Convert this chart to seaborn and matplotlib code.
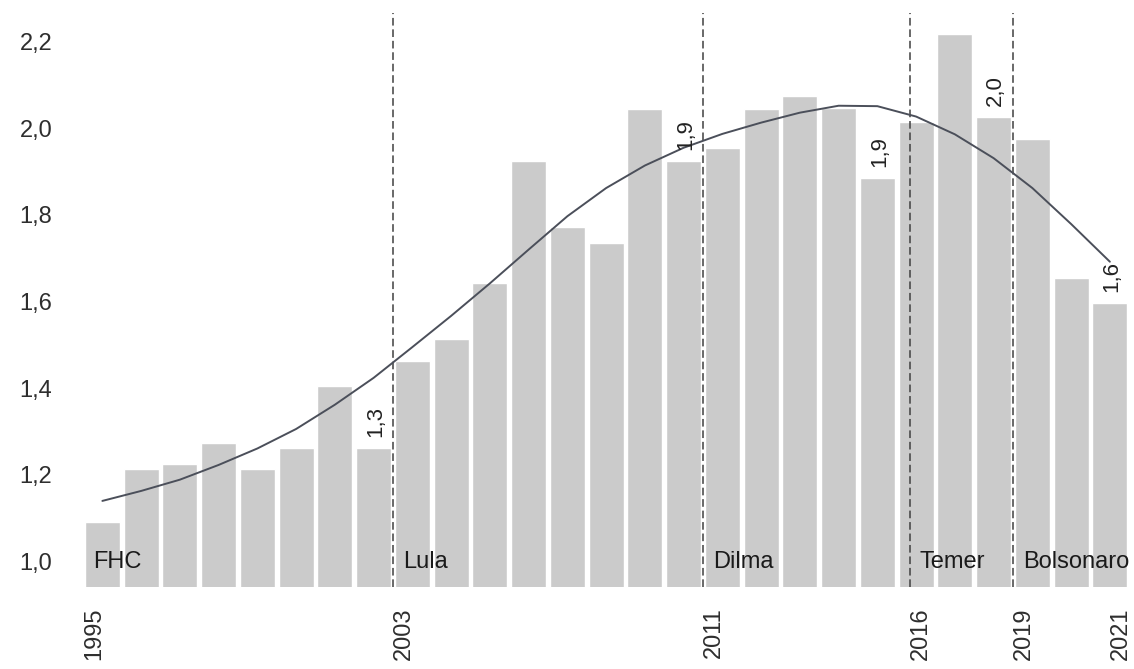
import matplotlib
matplotlib.use('Agg')
import matplotlib.pyplot as plt
import numpy as np
import pandas as pd
import seaborn as sns

# values
YEARS = list(range(1995, 2022))
VALUES = [1.092, 1.213, 1.225, 1.273, 1.213, 1.263, 1.405, 1.263,
          1.464, 1.514, 1.644, 1.925, 1.773, 1.735, 2.045, 1.925,
          1.954, 2.045, 2.075, 2.046, 1.885, 2.015, 2.217, 2.026,
          1.975, 1.655, 1.596]
TREND = [1.140, 1.163, 1.189, 1.223, 1.261, 1.306, 1.362, 1.424,
         1.495, 1.567, 1.642, 1.720, 1.797, 1.862, 1.914, 1.955,
         1.987, 2.013, 2.036, 2.052, 2.051, 2.027, 1.986, 1.931,
         1.862, 1.779, 1.692]
GOVERNMENTS = ['FHC', 'Lula', 'Dilma', 'Temer', 'Bolsonaro']
GOV_START = [1995.0, 2003.0, 2011.0, 2016.34, 2019.0]
LABEL_YEARS = [2002, 2010, 2015, 2018, 2021]
TICK_POS = [1995.0, 2003.0, 2011.0, 2016.34, 2019.0, 2021.5]
TICK_LABELS = ['1995', '2003', '2011', '2016', '2019', '2021']
Y_TICKS = [1.0, 1.2, 1.4, 1.6, 1.8, 2.0, 2.2]

df = pd.DataFrame({'year': YEARS, 'value': VALUES, 'trend': TREND})
df['mid'] = df['year'] + 0.5

sns.set_style('white')
plt.rcParams['font.family'] = ['Liberation Sans', 'DejaVu Sans']

fig = plt.figure(figsize=(11.34, 6.69), dpi=100)
ax = fig.add_axes([83 / 1134, (669 - 586.7) / 669, 1046.25 / 1134, 573.7 / 669])

sns.barplot(data=df, x='mid', y='value', native_scale=True, width=0.9,
            color='#cbcbcb', saturation=1, errorbar=None, ax=ax, zorder=1)
sns.lineplot(data=df, x='mid', y='trend', color='#4b4f5a', lw=1.4, ax=ax, zorder=3)

for x in GOV_START[1:]:
    ax.axvline(x, color='#404040', lw=1.1, ls=(0, (5, 2.5)), zorder=2)

for name, x in zip(GOVERNMENTS, GOV_START):
    ax.text(x + 0.26, 1.0, name, ha='left', va='center', fontsize=17,
            color='#1a1a1a', zorder=4)

for yr in LABEL_YEARS:
    v = df.loc[df.year == yr, 'value'].iloc[0]
    ax.text(yr + 0.55, v + 0.025, f'{v:.1f}'.replace('.', ','), rotation=90,
            ha='center', va='bottom', fontsize=16, color='#222222', zorder=4)

ax.set_xlim(1995, 2022)
ax.set_ylim(0.942, 2.266)
ax.set_xticks(TICK_POS)
ax.set_xticklabels(TICK_LABELS, rotation=90, ha='left', va='top')
ax.set_yticks(Y_TICKS)
ax.set_yticklabels([f'{v:.1f}'.replace('.', ',') for v in Y_TICKS])
ax.tick_params(axis='x', length=0, pad=15, labelsize=17, labelcolor='#2e2e2e')
ax.tick_params(axis='y', length=0, pad=22, labelsize=17, labelcolor='#2e2e2e')
ax.set_xlabel('')
ax.set_ylabel('')
sns.despine(ax=ax, left=True, bottom=True)

fig.savefig('out.png', dpi=100)
